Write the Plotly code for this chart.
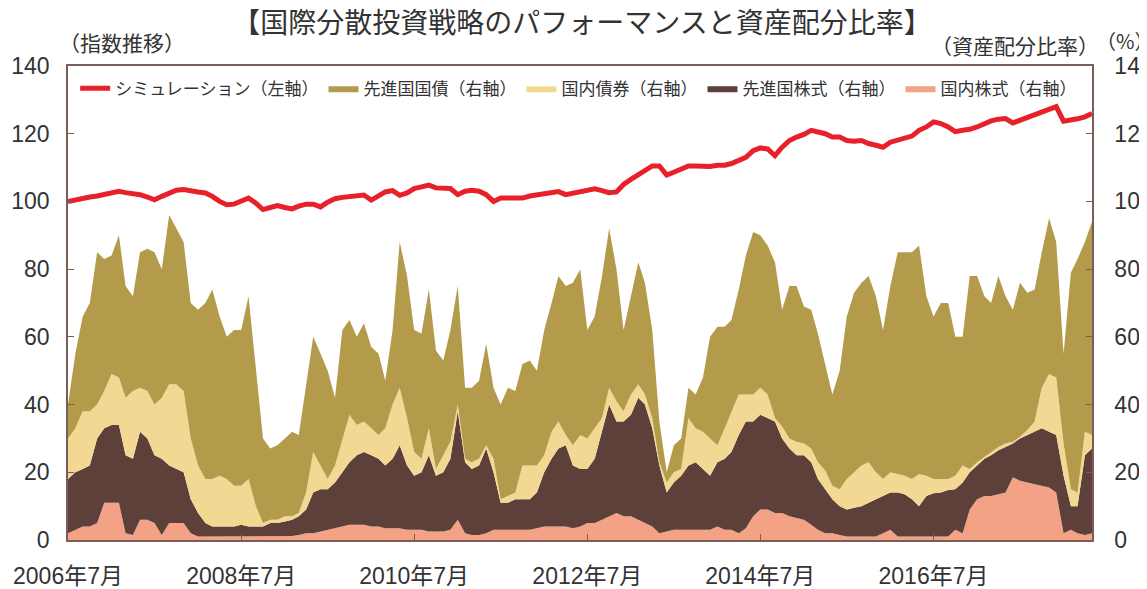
import plotly.graph_objects as go
import pandas as pd

# ---------------- data (monthly) ----------------
months = pd.date_range("2006-07-01", periods=143, freq="MS")

tick_dates = ["2006-07-01", "2008-07-01", "2010-07-01", "2012-07-01", "2014-07-01", "2016-07-01"]
tick_labels = ["2006年7月", "2008年7月", "2010年7月", "2012年7月", "2014年7月", "2016年7月"]

# シミュレーション (左軸)
simulation = [
    100, 100.5, 101, 101.3, 101.6, 102, 102.6, 103, 102.6, 102.4, 102, 101.3, 100.5, 101.5, 102.5, 103.3, 103.5, 103, 102.8, 102.5, 101.5, 100, 99, 99.2,
    100, 101, 99.5, 97.6, 98.2, 98.8, 98.2, 97.8, 98.6, 99.2, 99.2, 98.4, 99.8, 100.8, 101.2, 101.5, 101.6, 101.9, 100.4, 101.5, 102.8, 103.2, 101.8, 102.5,
    103.8, 104.3, 104.8, 104, 103.8, 103.8, 102, 103, 103.3, 103, 102, 100, 101, 101, 100.8, 101, 101.6, 102, 102.4, 102.6, 102.9, 102, 102.5, 103,
    103.3, 103.7, 103.2, 102.6, 102.8, 105, 106.5, 107.8, 109.3, 110.5, 110.5, 107.8, 108.6, 109.5, 110.5, 110.5, 110.3, 110.3, 110.7, 110.7, 111.2, 112, 113, 115,
    115.8, 115.5, 113.5, 116, 118, 119, 119.8, 121, 120.5, 120, 119, 119, 118, 117.8, 118, 117.1, 116.6, 116, 117.5, 118, 118.5, 119.3, 121, 122,
    123.5, 123, 122, 120.6, 121, 121.3, 122, 123, 123.8, 124.3, 124.5, 123.2, 124, 124.5, 125.5, 126.5, 127, 128, 123.7, 124, 124.4, 125, 126,
]

# 国内株式 (右軸)
jp_equity = [
    2, 3, 4, 4, 5, 11, 11, 11, 2, 1.5, 6, 6, 5, 1.5, 5, 5, 5, 2, 1, 1, 1, 1, 1, 1,
    1, 1, 1, 1, 1, 1, 1.2, 1.2, 1.5, 2, 2, 2.5, 3, 3.5, 4, 4.5, 4.5, 4.5, 4, 4, 3.5, 3.5, 3.5, 3,
    3, 3, 2.5, 2.5, 2.5, 3, 6, 2, 1.5, 1.5, 2, 3, 3, 3, 3, 3, 3, 3.5, 4, 4, 4, 4, 3.5, 4,
    5, 5, 6, 7, 8, 7, 7, 6, 5, 4, 2, 2.5, 3, 3, 3, 3, 3, 3, 4, 3, 3, 2, 3.5, 7,
    9, 9, 8, 8, 7, 6.5, 6, 4.5, 3, 2, 2, 1.5, 1, 1, 1, 1, 1, 2, 3, 1, 1, 1, 1, 1,
    1, 1, 1, 3, 2, 9, 12, 13, 13, 13.5, 14, 18.5, 17.5, 17, 16.5, 16, 15.5, 14, 2, 3, 2, 1.5, 2,
]

# 先進国株式 (右軸)
dev_equity = [
    16, 17, 17, 18, 25, 22, 23, 23, 23, 22.5, 26, 24, 20, 22.5, 17, 16, 15, 10, 7, 4, 3, 3, 3, 3,
    3.5, 3, 3, 3, 4, 4, 4.3, 4.8, 5.5, 7, 12, 12.5, 12, 13.5, 16, 18.5, 20.5, 21.5, 21, 20, 18.5, 20.5, 24.5, 19,
    16, 17, 22.5, 16.5, 17.5, 21, 32, 21, 19.5, 20.5, 25, 17, 8, 8, 9, 9, 9, 10.5, 16, 20, 23, 24, 18.5, 17,
    16, 19, 26, 33, 27, 28, 30, 36, 35, 29, 20, 11.5, 14, 16, 19, 20, 18, 16, 19, 21, 23, 29, 31.5, 28,
    28, 27, 27, 22, 20, 18.5, 19, 18.5, 15, 13, 10, 8.5, 8, 8.5, 9, 10, 11, 11, 11, 13, 12.5, 11, 9, 12,
    12.8, 13, 13.8, 12, 15, 11, 10, 11, 12, 13, 13.5, 10, 12.5, 14, 15.5, 17, 16.5, 17, 17, 7, 8, 23.5, 25,
]

# 国内債券 (右軸)
jp_bond = [
    12, 13, 17, 16, 10, 11, 15, 14, 17, 20, 13, 14, 15, 18, 24, 25, 24, 18, 14, 13, 14, 15, 14, 12,
    11.5, 14, 6, 1, 1, 1, 1.5, 1, 1, 5, 12, 7, 3, 5, 10, 14, 9, 9, 8, 7, 11, 16, 17, 14,
    7, 4, 8, 2, 5, 5, 2, 1, 2, 2, 1, 4, 1, 2, 2, 10, 10, 8, 5, 8, 8, 3, 6, 10,
    9, 9, 4, 5, 6, 3, 6, 4, 3, 3, 1, 3, 3, 2, 14, 10, 11, 11, 5, 9, 12, 12, 8, 8,
    8, 7, 1, 3.5, 3, 4, 3.5, 4, 5, 5.5, 4, 5, 9, 10.5, 12, 12, 8, 5, 6, 5.5, 5.5, 6, 9.5, 6,
    4.2, 4, 3.2, 4, 5, 1, 1, 0.5, 1, 1, 1, 0.5, 0.5, 1.5, 3, 12, 17, 17, 9.5, 5, 4, 7, 4,
]

# 先進国国債 (右軸)
dev_bond = [
    10, 22, 28, 32, 45, 39, 35, 42, 33, 28, 40, 42, 45, 38, 50, 46, 44, 40, 46, 52, 56, 47, 42, 46,
    46, 54, 40, 25, 21, 22, 23, 25, 23, 31, 34, 33, 32, 20, 32, 28, 26, 29, 24, 24, 14, 22, 43, 42,
    36, 37, 41, 35, 28, 33, 35, 21, 22, 23, 30, 21, 28, 32, 30, 30, 31, 28, 37, 38, 43, 44, 48, 49,
    32, 33, 42, 47, 39, 24, 29, 36, 33, 26, 12, 3, 8, 9, 9, 10, 16, 30, 35, 30, 27, 31, 41, 48,
    45, 44, 46, 34.5, 45, 46, 40.5, 41, 38, 31.5, 27, 35, 48, 53, 54, 55, 52, 44, 55, 65.5, 66, 67, 67.5, 53,
    48, 52, 52, 41, 38, 57, 55, 47.5, 44, 50.5, 43.5, 39, 45.5, 40.5, 39, 40, 46, 40, 26.5, 64, 69, 56, 63,
]

# ---------------- styling ----------------
C_DEV_BOND = "#b49b4b"
C_JP_BOND = "#f2d892"
C_DEV_EQ = "#5c4039"
C_JP_EQ = "#f4a286"
C_LINE = "#e8202a"
FRAME = "#7a5d56"
TXT = "#333333"
FONT = "Liberation Sans, Noto Sans CJK JP, sans-serif"
CJK = "Noto Sans CJK JP, sans-serif"

fig = go.Figure()

fig.add_trace(go.Scatter(
    x=months, y=simulation, name="シミュレーション（左軸）", mode="lines",
    line=dict(color=C_LINE, width=5), legendrank=1, yaxis="y2",
))

areas = [
    ("国内株式（右軸）", jp_equity, C_JP_EQ, 5),
    ("先進国株式（右軸）", dev_equity, C_DEV_EQ, 4),
    ("国内債券（右軸）", jp_bond, C_JP_BOND, 3),
    ("先進国国債（右軸）", dev_bond, C_DEV_BOND, 2),
]
for name, vals, col, rank in areas:
    fig.add_trace(go.Scatter(
        x=months, y=vals, name=name, mode="lines", stackgroup="alloc",
        line=dict(width=0, color=col), fillcolor=col, legendrank=rank,
        yaxis="y",
    ))

axis_common = dict(
    range=[0, 140], tickvals=[0, 20, 40, 60, 80, 100, 120, 140],
    ticks="inside", ticklen=6, tickcolor=FRAME, tickwidth=1,
    showgrid=False, zeroline=False, automargin=False,
    tickfont=dict(family=FONT, size=23, color=TXT),
)

fig.update_layout(
    width=1147, height=589, autosize=False,
    margin=dict(l=60, r=63, t=58, b=57, autoexpand=False),
    paper_bgcolor="white", plot_bgcolor="white",
    font=dict(family=FONT, color=TXT),
    title=dict(
        text="【国際分散投資戦略のパフォーマンスと資産配分比率】",
        x=0.5004, xanchor="center", y=1 - 15 / 589, yanchor="middle",
        font=dict(family=CJK, size=28, color=TXT),
    ),
    xaxis=dict(
        type="date", range=[months[0], months[-1]],
        tickvals=tick_dates, ticktext=tick_labels,
        ticks="inside", ticklen=6, tickcolor=FRAME,
        showline=True, linecolor=FRAME, linewidth=1.5, mirror=True,
        showgrid=False, zeroline=False, automargin=False,
        tickfont=dict(family=FONT, size=23, color=TXT),
        ticklabelstandoff=15,
    ),
    yaxis=dict(**axis_common, side="left", showline=True, linecolor=FRAME,
               linewidth=1.5, mirror=True, ticklabelstandoff=12),
    yaxis2=dict(**axis_common, side="right", overlaying="y", showline=True,
                linecolor=FRAME, linewidth=1.5, ticklabelstandoff=16),
    legend=dict(
        orientation="h", x=0.007, y=0.99, xanchor="left", yanchor="top",
        traceorder="normal",
        font=dict(family=CJK, size=17, color=TXT),
        bgcolor="rgba(255,255,255,0)", itemwidth=30, tracegroupgap=0,
    ),
    annotations=[
        dict(text="（指数推移）", xref="paper", yref="paper", x=-0.011, y=(540 - 42) / 474,
             xanchor="left", yanchor="middle", showarrow=False,
             font=dict(family=CJK, size=21, color=TXT)),
        dict(text="（資産配分比率）", xref="paper", yref="paper", x=(1101 - 68) / 1024, y=(540 - 45) / 474,
             xanchor="right", yanchor="middle", showarrow=False,
             font=dict(family=CJK, size=21, color=TXT)),
        dict(text="（%）", xref="paper", yref="paper", x=(1094 - 68) / 1024, y=(540 - 40) / 474,
             xanchor="left", yanchor="middle", showarrow=False,
             font=dict(family=CJK, size=20, color=TXT)),
    ],
)

fig.write_html("out.html")
